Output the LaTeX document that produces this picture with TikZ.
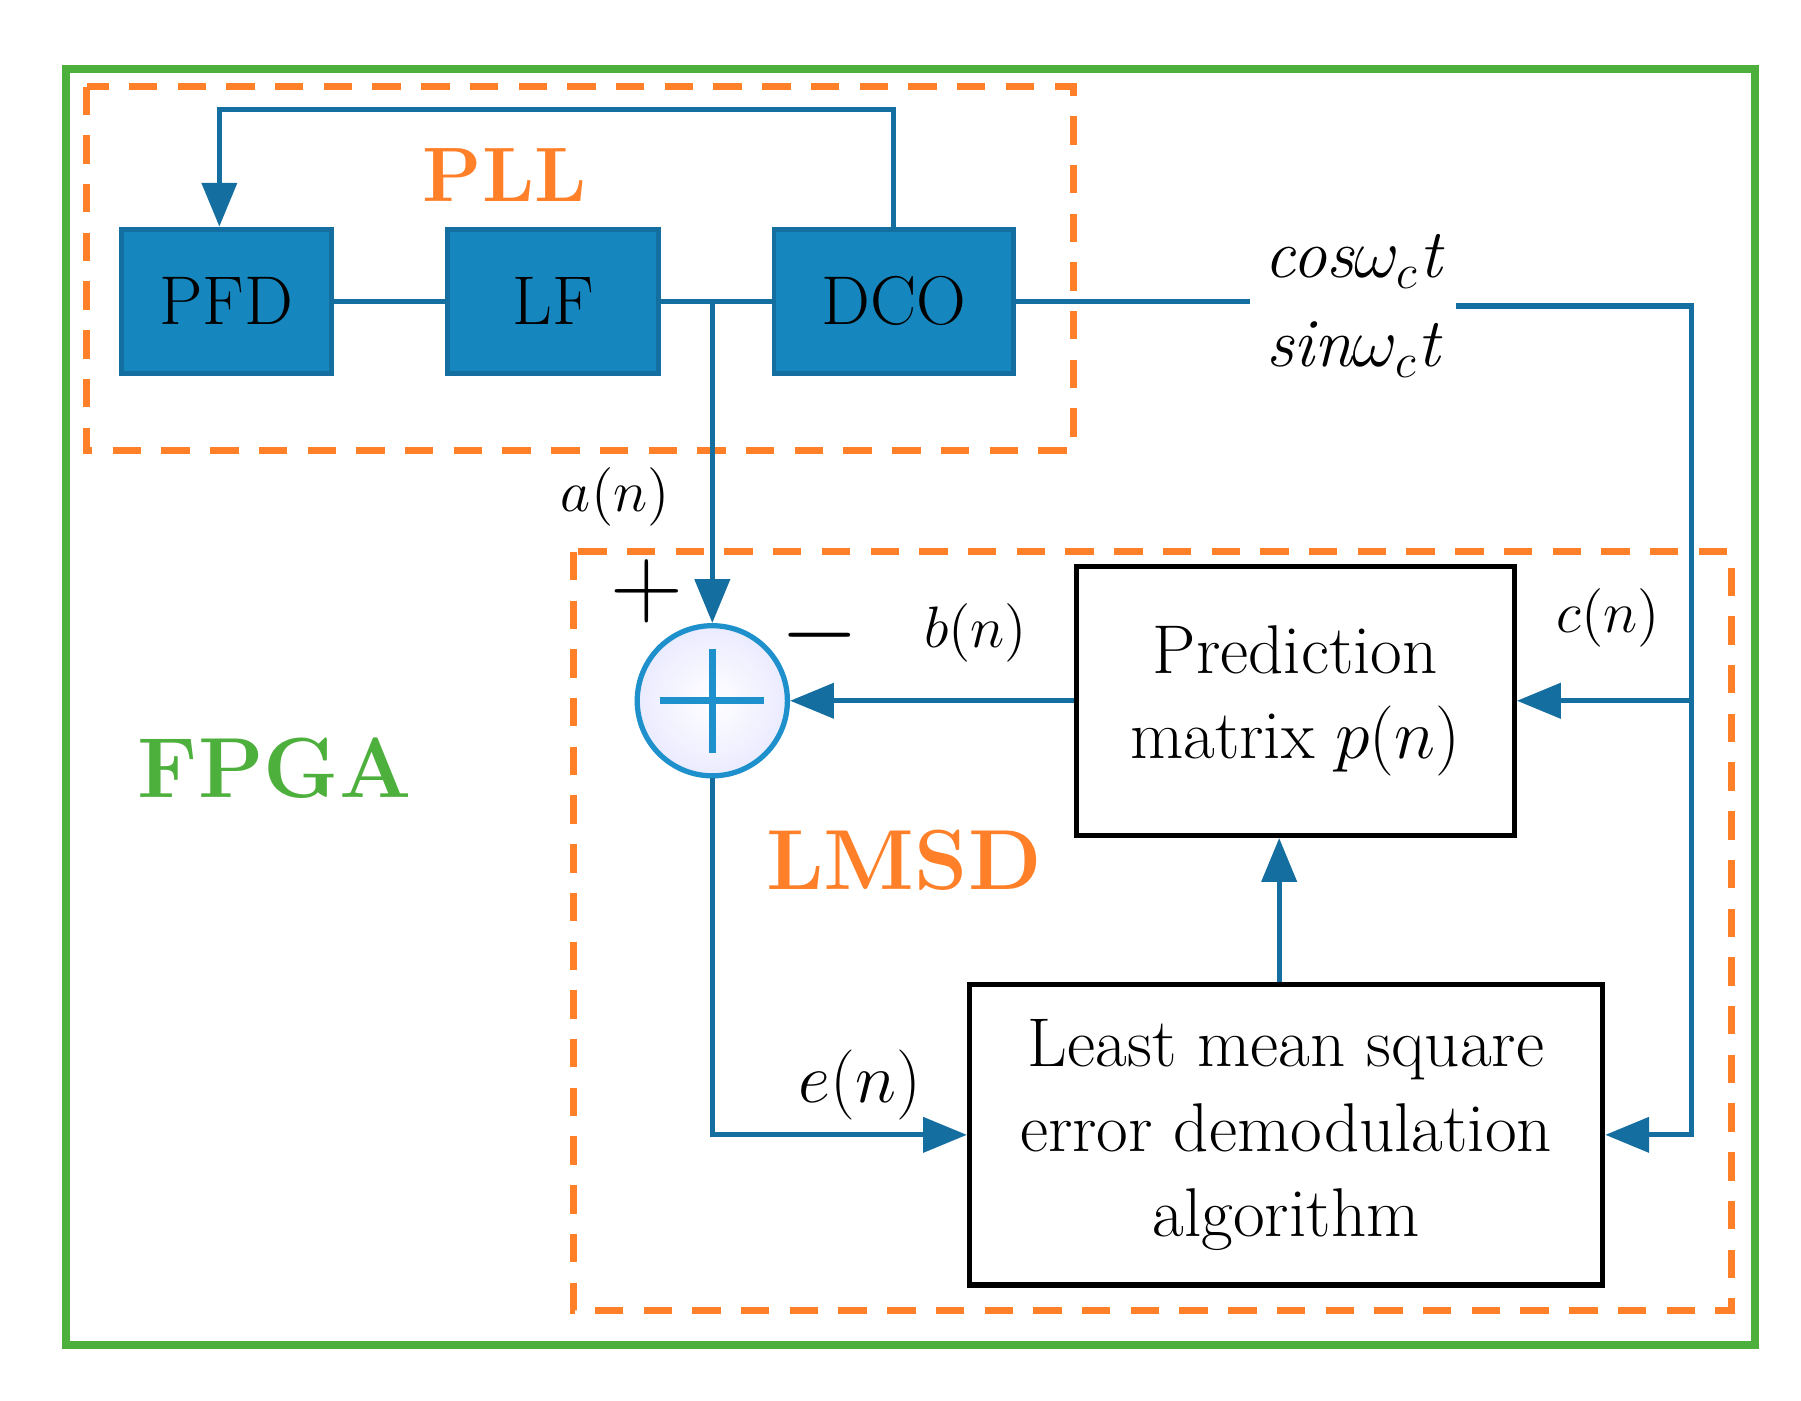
\documentclass[tikz,border=0pt]{standalone}
\usepackage{amsmath,amssymb}
\usetikzlibrary{arrows.meta}
\definecolor{fgreen}{RGB}{77,175,60}
\definecolor{forange}{RGB}{255,128,40}
\definecolor{fblue}{RGB}{20,110,160}
\definecolor{bfill}{RGB}{22,135,190}
\definecolor{sblue}{RGB}{30,145,205}
\tikzset{
  blk/.style={draw=fblue,fill=bfill,line width=1.2pt,minimum width=1.82cm,minimum height=1.25cm,font=\fontsize{17}{20}\selectfont},
  wbox/.style={draw,line width=1.3pt,align=center,font=\fontsize{17}{21}\selectfont},
  sig/.style={fblue,line width=1.3pt},
  arr/.style={sig,-{Triangle[length=0.38cm,width=0.3cm]}},
  lbl/.style={font=\fontsize{14}{16}\selectfont},
  frame/.style={forange,line width=1.8pt,dash pattern=on 7pt off 5pt}
}
\begin{document}
\begin{tikzpicture}[x=0.01cm,y=-0.01cm]
\useasboundingbox (0,0) rectangle (1560,1213);

% outer frames
\draw [fgreen,line width=2pt] (57,60) rectangle (1520,1165);
\draw [frame] (75,75) rectangle (930,390);
\draw [frame] (497,478) rectangle (1500,1135);

% PLL blocks
\node [blk] (pfd) at (196,261) {PFD};
\node [blk] (lf) at (479,261) {LF};
\node [blk,minimum width=2.07cm] (dco) at (774,261) {DCO};

% LMSD blocks
\node [wbox,minimum width=3.79cm,minimum height=2.33cm] (pred) at (1122,607) {Prediction\\matrix $p(n)$};
\node [wbox,minimum width=5.48cm,minimum height=2.6cm] (lms) at (1114,983) {Least mean square\\error demodulation\\algorithm};
\node [circle,draw=sblue,line width=1.3pt,inner color=white,outer color=blue!8,minimum size=1.3cm] (sum) at (617,607) {};
\draw [sblue,line width=1.8pt] (sum.center) ++(-45,0) -- ++(90,0) (sum.center) ++(0,-45) -- ++(0,90);

% text
\node [forange,font=\fontsize{19}{22}\selectfont\bfseries] (pll) at (437,152) {PLL};
\node [fgreen,font=\fontsize{21}{24}\selectfont\bfseries] (fpga) at (238,665) {FPGA};
\node [forange,font=\fontsize{21}{24}\selectfont\bfseries] (lmsd) at (783,745) {LMSD};
\node [font=\fontsize{17}{20}\selectfont\itshape,align=center] (carrier) at (1172,265) {cos$\omega_c$t\\[2pt]sin$\omega_c$t};
\node [lbl] (an) at (533,430) {$a(n)$};
\node [lbl] (bn) at (845,548) {$b(n)$};
\node [lbl] (cn) at (1393,535) {$c(n)$};
\node [font=\fontsize{18}{20}\selectfont] (en) at (745,940) {$e(n)$};
\node [font=\fontsize{26}{28}\selectfont] (plus) at (560,512) {$+$};
\node [font=\fontsize{26}{28}\selectfont] (minus) at (710,550) {$-$};

% connections
\coordinate (j1) at (617,261);
\coordinate (j2) at (1465,607);
\draw [sig] (pfd.east) -- (lf.west);
\draw [sig] (lf.east) -- (dco.west);
\draw [arr] (dco.north) |- (190,95) -- (pfd.north -| 190,0);
\draw [sig] (dco.east) -- (carrier.west |- dco.east);
\draw [arr] (carrier.east) -- (1465,265) |- (lms.east);
\draw [arr] (j2) -- (pred.east);
\draw [arr] (j1) -- (sum.north);
\draw [arr] (pred.west) -- (sum.east);
\draw [arr] (sum.south) |- (lms.west);
\draw [arr] (lms.north -| 1108,0) -- (pred.south -| 1108,0);
\end{tikzpicture}
\end{document}
